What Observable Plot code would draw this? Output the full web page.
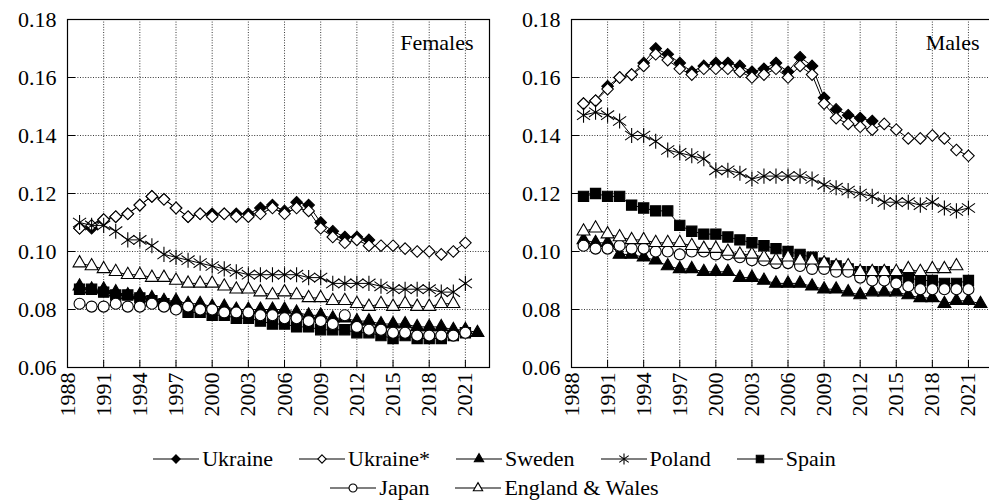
<!DOCTYPE html>
<html><head><meta charset="utf-8">
<script src="https://cdn.jsdelivr.net/npm/d3@7"></script>
<script src="https://cdn.jsdelivr.net/npm/@observablehq/plot@0.6"></script>
<style>
html,body{margin:0;padding:0;background:#fff;}
body{width:989px;height:504px;overflow:hidden;font-family:"Liberation Serif","Times New Roman","DejaVu Serif",serif;}
#charts{display:flex;width:989px;height:422px;overflow:hidden;}
#charts svg{flex:none;overflow:visible;}
#legend{width:989px;margin-top:22px;font-family:"Liberation Serif","Times New Roman","DejaVu Serif",serif;font-size:22px;color:#000;}
.lrow{display:flex;justify-content:center;align-items:center;height:29px;}
.litem{display:flex;align-items:center;margin:0 13px;}
.litem svg{margin-right:3px;}
</style></head><body>
<div id="charts"></div>
<div id="legend"></div>
<script>
// ---- data ----
const years = [1989,1990,1991,1992,1993,1994,1995,1996,1997,1998,1999,2000,2001,2002,2003,2004,2005,2006,2007,2008,2009,2010,2011,2012,2013,2014,2015,2016,2017,2018,2019,2020,2021,2022];
const seriesNames = ["Ukraine","Ukraine*","Sweden","Poland","Spain","Japan","England & Wales"];
const panelTitles = ["Females","Males"];
const yTicks = [0.06,0.08,0.10,0.12,0.14,0.16,0.18];
const xTicks = [1988,1991,1994,1997,2000,2003,2006,2009,2012,2015,2018,2021];

// Females (from 1989)
const ukraineF  = [0.108,0.108,0.111,0.112,0.113,0.116,0.119,0.118,0.115,0.112,0.113,0.113,0.113,0.113,0.113,0.115,0.116,0.114,0.117,0.116,0.110,0.107,0.105,0.105,0.104];
const ukraineSF = [0.108,0.109,0.111,0.112,0.113,0.116,0.119,0.118,0.115,0.112,0.113,0.112,0.113,0.112,0.112,0.113,0.115,0.113,0.115,0.114,0.108,0.105,0.103,0.104,0.102,0.102,0.102,0.101,0.100,0.100,0.099,0.100,0.103];
const swedenF   = [0.088,0.087,0.087,0.086,0.085,0.085,0.084,0.083,0.083,0.082,0.082,0.081,0.081,0.080,0.080,0.080,0.080,0.080,0.079,0.078,0.078,0.077,0.077,0.076,0.076,0.075,0.075,0.075,0.074,0.074,0.074,0.073,0.073,0.072];
const polandF   = [0.110,0.109,0.109,0.107,0.104,0.104,0.102,0.099,0.098,0.097,0.096,0.095,0.094,0.093,0.092,0.092,0.092,0.092,0.092,0.091,0.091,0.089,0.089,0.089,0.089,0.088,0.087,0.087,0.087,0.087,0.086,0.086,0.089];
const spainF    = [0.087,0.087,0.086,0.085,0.085,0.084,0.083,0.082,0.081,0.079,0.079,0.078,0.078,0.077,0.077,0.076,0.075,0.075,0.074,0.074,0.073,0.073,0.073,0.072,0.072,0.071,0.070,0.071,0.070,0.070,0.070,0.071,0.072];
const japanF    = [0.082,0.081,0.081,0.082,0.081,0.081,0.082,0.081,0.080,0.081,0.080,0.080,0.079,0.079,0.079,0.078,0.078,0.077,0.077,0.076,0.076,0.075,0.078,0.074,0.073,0.073,0.072,0.072,0.071,0.071,0.071,0.071,0.072];
const englandF  = [0.096,0.095,0.094,0.093,0.092,0.092,0.091,0.091,0.090,0.089,0.089,0.089,0.088,0.087,0.087,0.086,0.085,0.086,0.085,0.084,0.084,0.083,0.083,0.082,0.081,0.082,0.081,0.082,0.081,0.081,0.082,0.082];

// Males (from 1989)
const ukraineM  = [0.151,0.152,0.157,0.160,0.161,0.165,0.170,0.168,0.165,0.162,0.164,0.165,0.165,0.164,0.162,0.163,0.165,0.162,0.167,0.164,0.153,0.149,0.147,0.146,0.145];
const ukraineSM = [0.151,0.152,0.156,0.160,0.161,0.164,0.168,0.166,0.163,0.161,0.163,0.163,0.163,0.162,0.160,0.161,0.163,0.160,0.164,0.161,0.151,0.146,0.144,0.143,0.142,0.144,0.142,0.139,0.139,0.140,0.139,0.135,0.133];
const swedenM   = [0.104,0.103,0.103,0.099,0.099,0.098,0.097,0.095,0.094,0.094,0.093,0.093,0.093,0.091,0.091,0.090,0.089,0.089,0.089,0.088,0.087,0.087,0.086,0.085,0.086,0.086,0.086,0.085,0.084,0.084,0.082,0.083,0.083,0.082];
const polandM   = [0.147,0.148,0.147,0.145,0.140,0.140,0.138,0.135,0.134,0.133,0.132,0.128,0.128,0.127,0.125,0.126,0.126,0.126,0.126,0.125,0.123,0.122,0.121,0.120,0.119,0.117,0.117,0.117,0.116,0.117,0.115,0.114,0.115];
const spainM    = [0.119,0.120,0.119,0.119,0.116,0.115,0.114,0.114,0.109,0.107,0.106,0.106,0.105,0.104,0.103,0.102,0.101,0.100,0.099,0.098,0.096,0.095,0.094,0.093,0.093,0.093,0.092,0.091,0.090,0.090,0.089,0.089,0.090];
const japanM    = [0.102,0.101,0.101,0.102,0.101,0.101,0.100,0.100,0.099,0.100,0.100,0.099,0.099,0.098,0.097,0.097,0.096,0.096,0.095,0.094,0.094,0.093,0.093,0.091,0.090,0.090,0.089,0.088,0.087,0.087,0.087,0.087,0.087];
const englandM  = [0.107,0.108,0.106,0.105,0.104,0.104,0.103,0.103,0.103,0.102,0.101,0.101,0.100,0.099,0.099,0.098,0.097,0.098,0.097,0.097,0.096,0.095,0.095,0.093,0.093,0.093,0.093,0.094,0.093,0.094,0.094,0.095];

const femaleValues = [ukraineF, ukraineSF, swedenF, polandF, spainF, japanF, englandF];
const maleValues   = [ukraineM, ukraineSM, swedenM, polandM, spainM, japanM, englandM];

// ---- styles ----
const asterisk = {
  draw(ctx, size) {
    const r = Math.sqrt(size) * 0.56;
    const u = r * 0.87, t = r * 0.62;
    ctx.moveTo(0, -r); ctx.lineTo(0, r);
    ctx.moveTo(-u, -t); ctx.lineTo(u, t);
    ctx.moveTo(-u, t); ctx.lineTo(u, -t);
  }
};
const styles = [
  {symbol: "diamond2", fill: "black", r: 5.2},
  {symbol: "diamond2", fill: "white", r: 5.2},
  {symbol: "triangle", fill: "black", r: 4.8},
  {symbol: asterisk,   fill: "none",  r: 7.6},
  {symbol: "square",   fill: "black", r: 5.8},
  {symbol: "circle",   fill: "white", r: 5.5},
  {symbol: "triangle", fill: "white", r: 4.8}
];

const FONT = '"Liberation Serif","Times New Roman","DejaVu Serif",serif';

function panel(values, title, marginLeft, width, titleDx) {
  const marks = [
    Plot.ruleY(yTicks.slice(1, -1), {stroke: "#222", strokeDasharray: "1,1.6", strokeWidth: 0.9}),
    Plot.ruleX(xTicks.slice(1), {stroke: "#222", strokeDasharray: "1,1.6", strokeWidth: 0.9}),
    Plot.axisY(yTicks, {tickSize: 0, tickPadding: 11, tickFormat: d3.format(".2f"), fontSize: 22, label: null}),
    Plot.axisY(yTicks, {tickSize: -8, tickFormat: () => "", label: null, stroke: "#000"}),
    Plot.axisX(xTicks, {tickSize: 0, tickPadding: 5, tickRotate: -90, tickFormat: d => String(d), fontSize: 22, label: null}),
    Plot.axisX(xTicks, {tickSize: -7, tickFormat: () => "", label: null, stroke: "#000"})
  ];
  values.forEach((vals, i) => {
    const data = vals.map((v, j) => ({year: years[j], value: v}));
    const st = styles[i];
    marks.push(Plot.line(data, {x: "year", y: "value", stroke: "black", strokeWidth: 1}));
    marks.push(Plot.dot(data, {x: "year", y: "value", symbol: () => st.symbol, r: st.r,
      fill: st.fill, stroke: "black", strokeWidth: 1.1}));
  });
  marks.push(Plot.frame({stroke: "black", strokeWidth: 1.2}));
  marks.push(Plot.text([title], {frameAnchor: "top-right", dx: titleDx, dy: 15, lineAnchor: "top",
    fontSize: 22, fill: "black"}));
  return Plot.plot({
    width, height: 422,
    marginLeft, marginRight: 5, marginTop: 19, marginBottom: 55,
    style: {fontFamily: FONT, fontSize: "22px", background: "white", color: "black", overflow: "visible"},
    x: {domain: [1988, 2023], axis: null},
    y: {domain: [0.06, 0.18], axis: null},
    symbol: {type: "identity"},
    marks
  });
}

const charts = document.getElementById("charts");
charts.appendChild(panel(femaleValues, panelTitles[0], 67, 494, -16));
charts.appendChild(panel(maleValues, panelTitles[1], 77, 503, -13));

// ---- legend ----
const legendRows = [[0,1,2,3,4],[5,6]];
const legend = document.getElementById("legend");
const typeMap = {diamond2: d3.symbolDiamond2, triangle: d3.symbolTriangle, square: d3.symbolSquare, circle: d3.symbolCircle};
legendRows.forEach(row => {
  const div = document.createElement("div");
  div.className = "lrow";
  row.forEach(i => {
    const item = document.createElement("div");
    item.className = "litem";
    const svg = d3.create("svg").attr("width", 46).attr("height", 20);
    svg.append("line").attr("x1", 0).attr("x2", 46).attr("y1", 10).attr("y2", 10).attr("stroke", "black").attr("stroke-width", 1.2);
    const st = styles[i];
    const type = typeof st.symbol === "string" ? typeMap[st.symbol] : st.symbol;
    const size = Math.PI * (st.r * 0.72) ** 2;
    svg.append("path").attr("d", d3.symbol(type, size)()).attr("transform", "translate(23,10)")
      .attr("fill", st.fill).attr("stroke", "black").attr("stroke-width", 1.1);
    item.appendChild(svg.node());
    const span = document.createElement("span");
    span.textContent = seriesNames[i];
    item.appendChild(span);
    div.appendChild(item);
  });
  legend.appendChild(div);
});
</script>
</body></html>
